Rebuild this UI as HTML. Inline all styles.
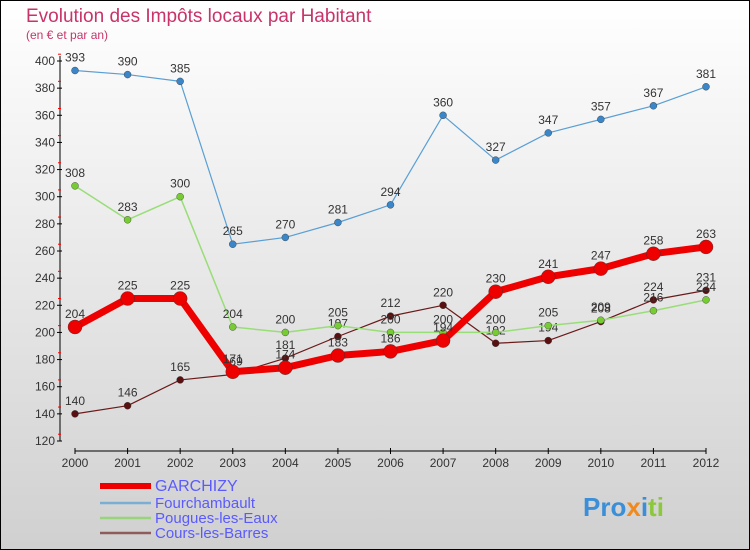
<!DOCTYPE html>
<html><head><meta charset="utf-8"><style>
body{margin:0}
svg{display:block;font-family:"Liberation Sans",sans-serif}
</style></head><body>
<svg width="750" height="550" viewBox="0 0 750 550">
<defs><linearGradient id="bg" x1="0" y1="0" x2="0" y2="1"><stop offset="0" stop-color="#ffffff"/><stop offset="1" stop-color="#d0d0d0"/></linearGradient></defs>
<rect x="0.5" y="0.5" width="749" height="549" fill="url(#bg)" stroke="#000"/>
<text x="26" y="22" font-size="19" fill="#c8336a">Evolution des Impôts locaux par Habitant</text>
<text x="26" y="39" font-size="12" fill="#c8336a">(en € et par an)</text>
<g id="axes"></g>
<g id="series"></g>
<g id="legend"></g>
<text x="583" y="516" font-size="26" font-weight="bold"><tspan fill="#3a8fd8">Pro</tspan><tspan fill="#f08a1c">x</tspan><tspan fill="#3a8fd8">i</tspan><tspan fill="#8cc83c">ti</tspan></text>
</svg>
<script>
const years=[2000,2001,2002,2003,2004,2005,2006,2007,2008,2009,2010,2011,2012];
const yTicks=[120,140,160,180,200,220,240,260,280,300,320,340,360,380,400];
const seriesNames=["GARCHIZY","Fourchambault","Pougues-les-Eaux","Cours-les-Barres"];
const garchizy=[204,225,225,171,174,183,186,194,230,241,247,258,263];
const fourchambault=[393,390,385,265,270,281,294,360,327,347,357,367,381];
const pougues=[308,283,300,204,200,205,200,200,200,205,209,216,224];
const cours=[140,146,165,169,181,197,212,220,192,194,208,224,231];
const NS="http://www.w3.org/2000/svg";
const xS=i=>75+i*(706-75)/(years.length-1);
const yS=v=>441-(v-120)*(441-61)/280;
function mk(tag,attrs,parent,name){const e=document.createElementNS(NS,tag);for(const k in attrs)e.setAttribute(k,attrs[k]);


parent.appendChild(e);return e;}
const ax=document.getElementById('axes');
mk('line',{x1:60,y1:56,x2:60,y2:441,stroke:'#000'},ax,'y-axis');
yTicks.forEach(v=>{const y=yS(v);
mk('line',{x1:57,y1:y,x2:62,y2:y,stroke:'#000'},ax,'y-tick');
mk('line',{x1:58,y1:y-6.8,x2:61,y2:y-6.8,stroke:'#f00'},ax,'y-minor-tick');
const t=mk('text',{x:55,y:y+4,'font-size':12,fill:'#333','text-anchor':'end'},ax,'y-tick-label');t.textContent=v;});
mk('line',{x1:75,y1:451,x2:706,y2:451,stroke:'#000'},ax,'x-axis');
years.forEach((yr,i)=>{const x=xS(i);
mk('line',{x1:x,y1:448,x2:x,y2:454,stroke:'#000'},ax,'x-tick');
const t=mk('text',{x:x,y:467,'font-size':12,fill:'#333','text-anchor':'middle'},ax,'x-tick-label');t.textContent=yr;});
const sg=document.getElementById('series');
const defs=[[cours,'#6b1a1a','#5a1010',1.2,3.5,'cours-les-barres'],[pougues,'#99dd77','#77cc33',1.5,3.5,'pougues-les-eaux'],[fourchambault,'#5a9fd4','#3a86c8',1.2,3.5,'fourchambault'],[garchizy,'#ee0000','#ee0000',7,7,'garchizy']];
defs.forEach(([d,lc,pc,w,r,n])=>{
mk('polyline',{points:d.map((v,i)=>xS(i)+','+yS(v)).join(' '),fill:'none',stroke:lc,'stroke-width':w,'stroke-linejoin':'round'},sg,n+'-line');
d.forEach((v,i)=>{mk('circle',{cx:xS(i),cy:yS(v),r:r,fill:pc,stroke:'#333','stroke-width':0.4},sg,n+'-point');
const t=mk('text',{x:xS(i),y:yS(v)-9,'font-size':12,fill:'#333','text-anchor':'middle'},sg,n+'-value-label');t.textContent=v;});
});
const lg=document.getElementById('legend');
const lcol=['#ee0000','#7aaed4','#99d47a','#8f5c5c'],lw=[6,2.5,2.5,2.5],ly=[491,508,523,538];
seriesNames.forEach((s,i)=>{
mk('line',{x1:100,y1:ly[i]-5,x2:151,y2:ly[i]-5,stroke:lcol[i],'stroke-width':lw[i]},lg,'legend-swatch');
const t=mk('text',{x:155,y:ly[i],'font-size':i==0?16:15,fill:'#5a5aff'},lg,'legend-entry');t.textContent=s;});
</script>
</body></html>
